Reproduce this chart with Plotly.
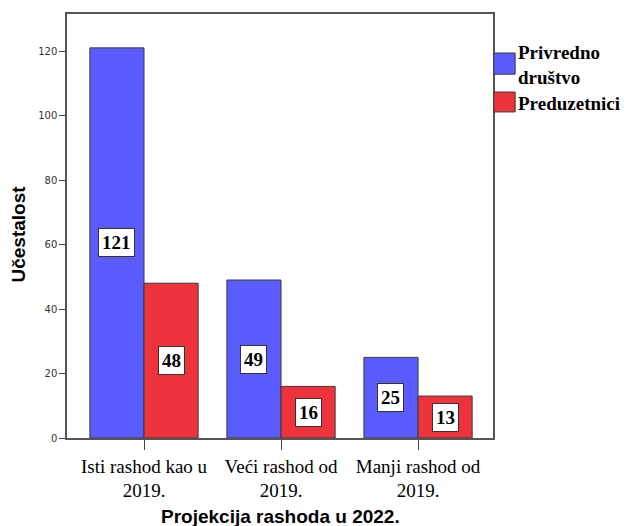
import plotly.graph_objects as go

categories = ["Isti rashod kao u<br>2019.", "Veći rashod od<br>2019.", "Manji rashod od<br>2019."]
series_names = ["Privredno<br>društvo", "Preduzetnici"]
privredno = [121, 49, 25]
preduzetnici = [48, 16, 13]
colors = ["#5a5cff", "#ef333c"]
y_ticks = [0, 20, 40, 60, 80, 100, 120]

fig = go.Figure()
for name, vals, col in zip(series_names, [privredno, preduzetnici], colors):
    fig.add_trace(go.Bar(
        x=list(range(len(categories))), y=vals, name=name,
        marker=dict(color=col, line=dict(color="#3a3a3a", width=1)),
        showlegend=False,
    ))

# value labels at mid-height of each bar
n = len(categories)
offset = 0.395 / 2
for i in range(n):
    for vals, dx in [(privredno, -offset), (preduzetnici, offset)]:
        fig.add_annotation(
            x=i + dx, y=vals[i] / 2, text=f"<b>{vals[i]}</b>", showarrow=False,
            font=dict(family="Liberation Serif", size=19, color="black"),
            bgcolor="white", bordercolor="#333", borderwidth=1, borderpad=3,
        )

# legend drawn as swatches + labels to the right of the plot frame
legend_rows = [(0.908, 0.858, 0.880), (0.816, 0.769, 0.790)]
for (y_top, y_bot, y_txt), name, col in zip(legend_rows, series_names, colors):
    fig.add_shape(type="rect", xref="paper", yref="paper",
                  x0=1.002, x1=1.052, y0=y_bot, y1=y_top,
                  fillcolor=col, line=dict(color="#3a3a3a", width=1))
    fig.add_annotation(xref="paper", yref="paper", x=1.054, y=y_txt,
                       xanchor="left", yanchor="middle", align="left",
                       text=f"<b>{name}</b>", showarrow=False,
                       font=dict(family="Liberation Serif", size=19, color="black"))

# axis titles
fig.add_annotation(xref="paper", yref="paper", x=0.5, y=-0.185,
                   xanchor="center", yanchor="middle", showarrow=False,
                   text="<b>Projekcija rashoda u 2022.</b>",
                   font=dict(family="Liberation Sans", size=19, color="black"))
fig.add_annotation(xref="paper", yref="paper", x=-0.115, y=0.48,
                   xanchor="center", yanchor="middle", showarrow=False,
                   textangle=-90, text="<b>Učestalost</b>",
                   font=dict(family="Liberation Sans", size=19, color="black"))

fig.update_layout(
    width=639, height=526,
    margin=dict(l=67, r=146, t=14, b=88),
    plot_bgcolor="white", paper_bgcolor="white",
    barmode="group", bargap=0.21, bargroupgap=0,
    showlegend=False,
    xaxis=dict(
        range=[-0.562, 2.547], tickmode="array",
        tickvals=list(range(n)), ticktext=categories,
        ticks="outside", ticklen=10, tickcolor="#444",
        showline=True, linecolor="#555", linewidth=1.5, mirror=True,
        showgrid=False, zeroline=False, automargin=False,
        tickfont=dict(family="Liberation Serif", size=19, color="black"),
    ),
    yaxis=dict(
        range=[0, 131.5], tickvals=y_ticks,
        ticks="outside", ticklen=6, tickcolor="#444",
        showline=True, linecolor="#555", linewidth=1.5, mirror=True,
        showgrid=False, zeroline=False, automargin=False,
        tickfont=dict(family="DejaVu Sans", size=10, color="#333"),
    ),
)

fig.write_html("out.html")
